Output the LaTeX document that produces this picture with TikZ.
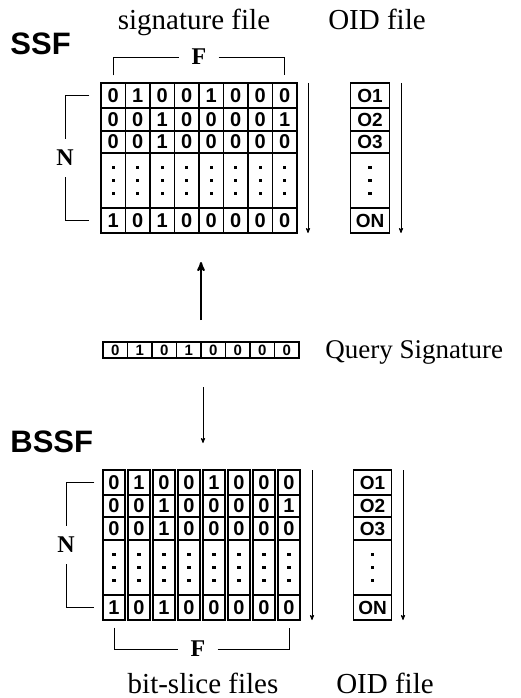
\documentclass[tikz,border=0pt]{standalone}
\usepackage{fontspec}
\setmainfont{Liberation Serif}
\setsansfont{Liberation Sans}
\usetikzlibrary{arrows}

\begin{document}
\begin{tikzpicture}[x=1pt,y=-1pt,>=stealth',line width=0.8pt,
  bit node/.style={draw,line width=1.1pt,inner sep=0pt,minimum width=24.5pt,font=\sffamily\bfseries\fontsize{20}{20}\selectfont},
  slice node/.style={bit node,minimum width=22pt},
  oid node/.style={bit node,minimum width=38.5pt,font=\sffamily\bfseries\fontsize{19}{19}\selectfont},
  query node/.style={bit node,minimum height=16pt,font=\sffamily\bfseries\fontsize{15}{15}\selectfont},
  title node/.style={anchor=base,inner sep=0pt,font=\fontsize{29}{29}\selectfont},
  head node/.style={anchor=base west,inner sep=0pt,font=\sffamily\bfseries\fontsize{31}{31}\selectfont},
  dim node/.style={inner sep=0pt,font=\bfseries\fontsize{24}{24}\selectfont},
  dot node/.style={rectangle,fill,inner sep=0pt,minimum size=3.4pt}]
  \useasboundingbox (0,0) rectangle (521,698);

  % SSF: signature file
  \node[head node] (ssf) at (10,55) {SSF};
  \node[title node] (sigf) at (194,30) {signature file};
  \node[title node] (oidf1) at (377,30) {OID file};
  \foreach \y/\h/\bits [count=\r] in {95.5/25/{0,1,0,0,1,0,0,0},119.5/23/{0,0,1,0,0,0,0,1},
      142/22/{0,0,1,0,0,0,0,0},220.5/25/{1,0,1,0,0,0,0,0}}
    \foreach \b [count=\c] in \bits
      \node[bit node,minimum height=\h pt] (s\r-\c) at (88.75+24.5*\c,\y) {\b};
  \foreach \c in {1,...,8} {
    \node[bit node,minimum height=55pt] (sd-\c) at (88.75+24.5*\c,180.5) {};
    \foreach \d in {-13,0,13}
      \node[dot node] at ([yshift=\d pt]sd-\c.center) {};
  }
  \foreach \y/\h/\t [count=\r] in {95.5/25/O1,119.5/23/O2,142/22/O3,180.5/55/,220.5/25/ON}
    \node[oid node,minimum height=\h pt] (o\r) at (370,\y) {\t};
  \foreach \d in {-13,0,13}
    \node[dot node] at ([yshift=\d pt]o4.center) {};
  \coordinate (sa) at (308,83);  \coordinate (sb) at (308,233);
  \coordinate (oa) at (401,83);  \coordinate (ob) at (401,233);
  \draw[->] (sa) -- (sb);
  \draw[->] (oa) -- (ob);

  % F and N brackets
  \node[dim node] (f1) at (199,57) {F};
  \draw (s1-1.north) ++(0,-7) |- ([xshift=-12pt]f1.west);
  \draw ([xshift=12pt]f1.east) -| ([yshift=7pt]s1-8.north);
  \node[dim node] (n1) at (65,158) {N};
  \draw ([xshift=-11pt]s1-1.west) -| ([yshift=11pt]n1.north);
  \draw ([yshift=-11pt]n1.south) |- ([xshift=-11pt]s4-1.west);

  % query signature
  \foreach \b [count=\c] in {0,1,0,1,0,0,0,0}
    \node[query node] (q-\c) at (90.75+24.5*\c,350) {\b};
  \node[anchor=base west,inner sep=0pt,font=\fontsize{27}{27}\selectfont] (qs) at (325,358) {Query Signature};
  \coordinate (up) at (201,320);  \coordinate (upend) at (201,262);
  \draw[->,line width=2pt] (up) -- (upend);
  \coordinate (dn) at (203,387);  \coordinate (dnend) at (203,443);
  \draw[->] (dn) -- (dnend);

  % BSSF: bit-slice files
  \node[head node] (bssf) at (10,452) {BSSF};
  \foreach \y/\h/\bits [count=\r] in {482.5/25/{0,1,0,0,1,0,0,0},506/22/{0,0,1,0,0,0,0,1},
      528.5/23/{0,0,1,0,0,0,0,0},607.5/25/{1,0,1,0,0,0,0,0}}
    \foreach \b [count=\c] in \bits
      \node[slice node,minimum height=\h pt] (b\r-\c) at (89+25*\c,\y) {\b};
  \foreach \c in {1,...,8} {
    \node[slice node,minimum height=55pt] (bd-\c) at (89+25*\c,567.5) {};
    \foreach \d in {-13,0,13}
      \node[dot node] at ([yshift=\d pt]bd-\c.center) {};
  }
  \foreach \y/\h/\t [count=\r] in {482.5/25/O1,506/22/O2,528.5/23/O3,567.5/55/,607.5/25/ON}
    \node[oid node,minimum height=\h pt] (p\r) at (372.5,\y) {\t};
  \foreach \d in {-13,0,13}
    \node[dot node] at ([yshift=\d pt]p4.center) {};
  \coordinate (ba) at (312,470);  \coordinate (bb) at (312,620);
  \coordinate (pa) at (403,470);  \coordinate (pb) at (403,620);
  \draw[->] (ba) -- (bb);
  \draw[->] (pa) -- (pb);

  \node[dim node] (f2) at (198,649) {F};
  \draw ([yshift=-7pt]b4-1.south) |- ([xshift=-12pt]f2.west);
  \draw ([xshift=12pt]f2.east) -| ([yshift=-7pt]b4-8.south);
  \node[dim node] (n2) at (66,545) {N};
  \draw ([xshift=-8pt]b1-1.west) -| ([yshift=11pt]n2.north);
  \draw ([yshift=-11pt]n2.south) |- ([xshift=-8pt]b4-1.west);
  \node[title node] (bsf) at (203,693) {bit-slice files};
  \node[title node] (oidf2) at (385,693) {OID file};
\end{tikzpicture}
\end{document}
